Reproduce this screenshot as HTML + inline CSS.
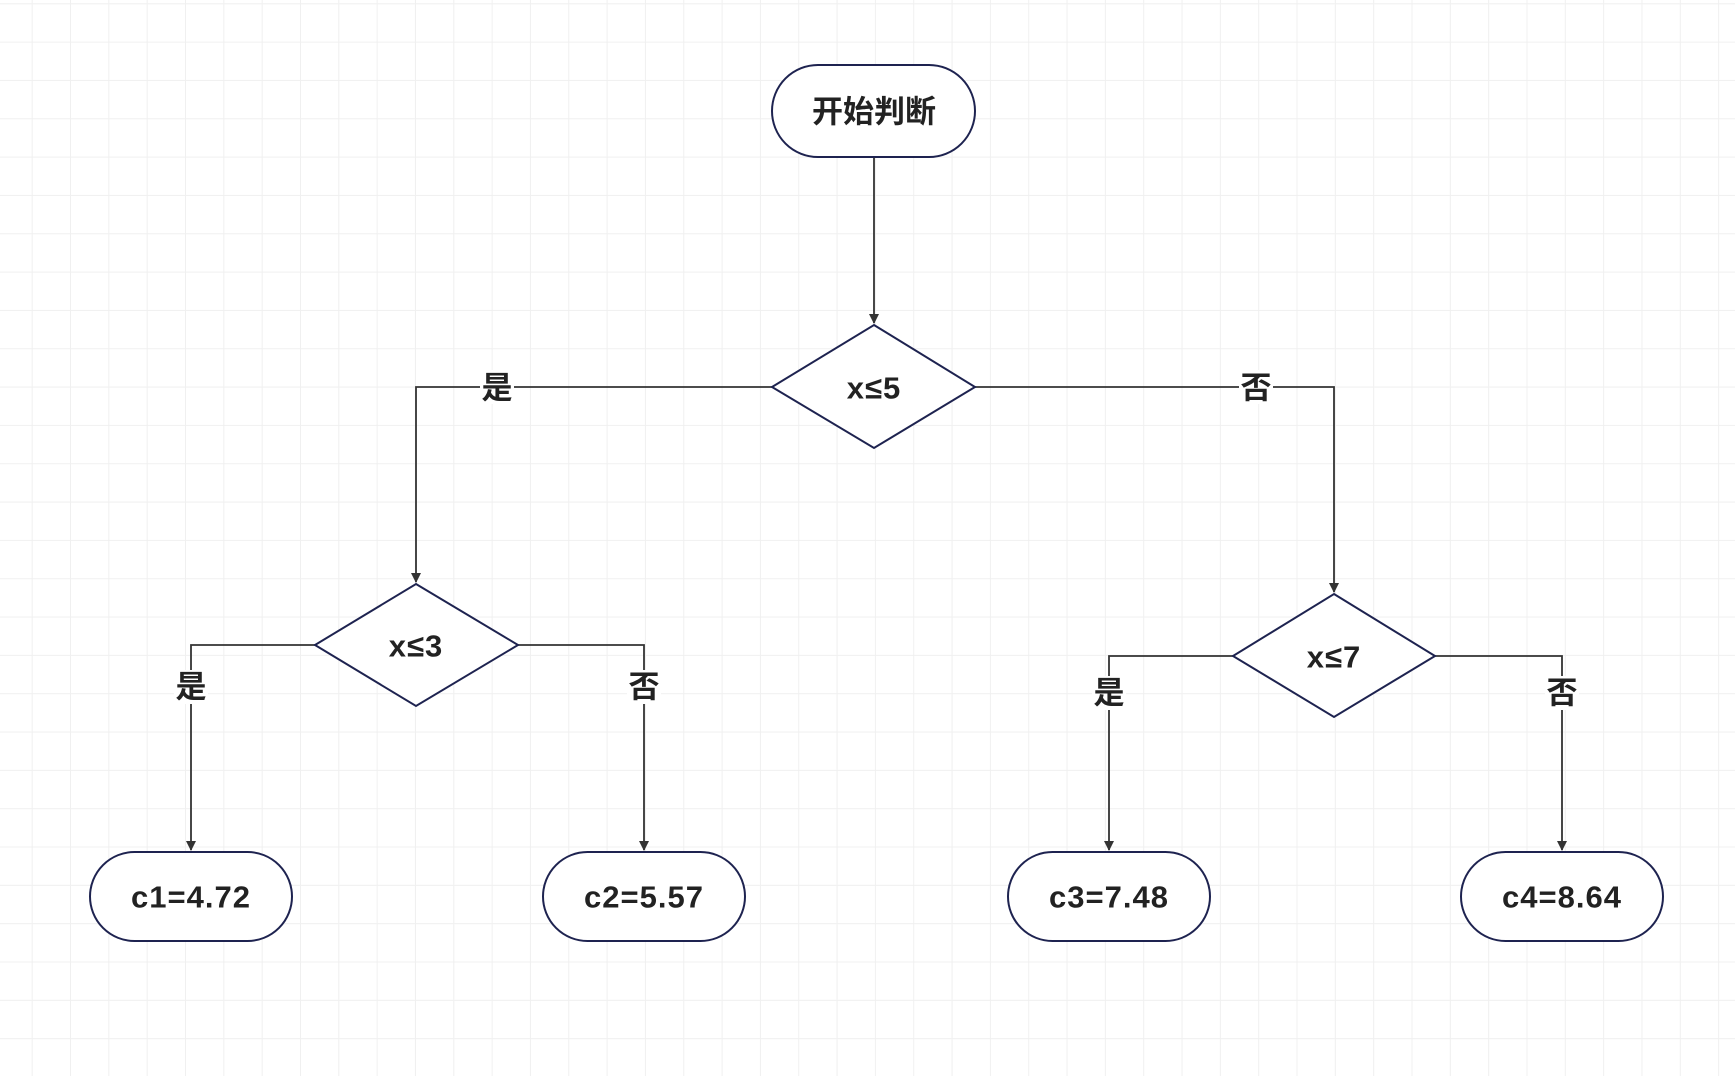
<!DOCTYPE html>
<html><head><meta charset="utf-8"><style>
html,body{margin:0;padding:0;}
body{width:1735px;height:1076px;overflow:hidden;background:#fff;
background-image:linear-gradient(to right,#f0f0f0 1px,transparent 1px),linear-gradient(to bottom,#f0f0f0 1px,transparent 1px);
background-size:38.33px 38.33px;background-position:31.7px 3.3px;}
svg{position:absolute;left:0;top:0;}
text{font-family:"Liberation Sans","Noto Sans CJK SC",sans-serif;font-weight:bold;fill:#222;text-anchor:middle;dominant-baseline:central;}
</style></head><body>
<svg width="1735" height="1076" viewBox="0 0 1735 1076">
<defs><marker id="a" markerWidth="10" markerHeight="10" refX="9" refY="5" orient="auto" markerUnits="userSpaceOnUse"><path d="M0,0 L10,5 L0,10 z" fill="#333"/></marker></defs>
<g stroke="#333" stroke-width="1.8" fill="none">
<path d="M874,157 V323" marker-end="url(#a)"/>
<path d="M772,387 H416 V582" marker-end="url(#a)"/>
<path d="M975,387 H1334 V592" marker-end="url(#a)"/>
<path d="M315,645 H191 V850" marker-end="url(#a)"/>
<path d="M518,645 H644 V850" marker-end="url(#a)"/>
<path d="M1233,656 H1109 V850" marker-end="url(#a)"/>
<path d="M1435,656 H1562 V850" marker-end="url(#a)"/>
</g>
<g fill="#fff" stroke="#1e2350" stroke-width="2">
<rect x="772" y="65" width="203" height="92" rx="46"/>
<polygon points="874,325 975,387 874,448 772,387"/>
<polygon points="416,584 518,645 416,706 315,645"/>
<polygon points="1334,594 1435,656 1334,717 1233,656"/>
<rect x="90" y="852" width="202" height="89" rx="44.5"/>
<rect x="543" y="852" width="202" height="89" rx="44.5"/>
<rect x="1008" y="852" width="202" height="89" rx="44.5"/>
<rect x="1461" y="852" width="202" height="89" rx="44.5"/>
</g>
<g fill="#fff">
<rect x="480" y="370" width="34" height="34"/>
<rect x="1239" y="370" width="34" height="34"/>
<rect x="174" y="670" width="34" height="34"/>
<rect x="627" y="670" width="34" height="34"/>
<rect x="1092" y="676" width="34" height="34"/>
<rect x="1545" y="676" width="34" height="34"/>
</g>
<g font-size="31">
<text x="874" y="112">开始判断</text>
<text x="874" y="388" letter-spacing="1">x≤5</text>
<text x="416" y="646" letter-spacing="1">x≤3</text>
<text x="1334" y="657" letter-spacing="1">x≤7</text>
<text x="191" y="897" letter-spacing="1">c1=4.72</text>
<text x="644" y="897" letter-spacing="1">c2=5.57</text>
<text x="1109" y="897" letter-spacing="1">c3=7.48</text>
<text x="1562" y="897" letter-spacing="1">c4=8.64</text>
<text x="497" y="388">是</text>
<text x="1256" y="388">否</text>
<text x="191" y="687">是</text>
<text x="644" y="687">否</text>
<text x="1109" y="693">是</text>
<text x="1562" y="693">否</text>
</g>
</svg>
</body></html>
